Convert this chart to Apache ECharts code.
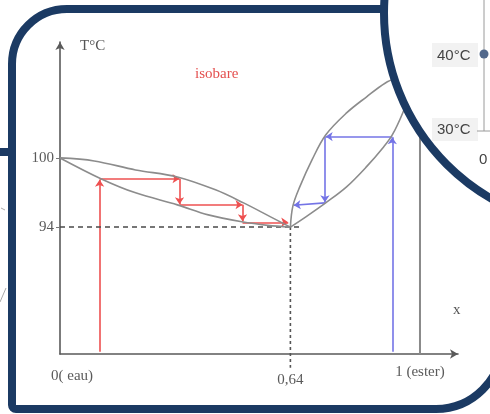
<!DOCTYPE html>
<html>
<head>
<meta charset="utf-8">
<script src="https://cdn.jsdelivr.net/npm/echarts@6/dist/echarts.min.js"></script>
<style>
  html, body { margin: 0; padding: 0; background: #fff; }
  #chart { width: 490px; height: 414px; }
</style>
</head>
<body>
<div id="chart"></div>
<script>
// Axis ticks and their texts
const xTicks = [0, 0.64, 1];
const xTickText = ['0( eau)', '0,64', '1 (ester)'];
const yTicks = [94, 100];

// Azeotrope (x, T)
const azeotrope = [0.64, 94];

// Vapour and liquid curves, water side
const vaporLeft = [[0, 100], [0.095, 99.74], [0.21, 98.96], [0.326, 98.35], [0.432, 97.23], [0.51, 96.10], [0.585, 94.89], [0.64, 94]];
const liquidLeft = [[0, 100], [0.115, 98.18], [0.21, 96.97], [0.326, 95.93], [0.412, 95.06], [0.505, 94.46], [0.577, 94.15], [0.64, 94]];

// Vapour and liquid curves, ester side
const vaporRight = [[0.64, 94], [0.647, 95.84], [0.666, 97.49], [0.70, 99.83], [0.738, 101.99], [0.796, 103.90], [0.851, 105.28], [0.904, 106.50], [0.947, 107.10], [1, 107.8]];
const liquidRight = [[0.64, 94], [0.683, 94.89], [0.738, 96.10], [0.796, 97.49], [0.851, 99.22], [0.899, 100.95], [0.923, 101.99], [0.952, 103.9], [1, 107.8]];

// Distillation steps (segments with arrowheads)
const redSteps = [
  [[0.11, 83.2], [0.11, 98.1]],
  [[0.11, 98.2], [0.332, 98.2]],
  [[0.332, 98.2], [0.332, 95.98]],
  [[0.332, 95.95], [0.507, 95.95]],
  [[0.507, 95.95], [0.507, 94.5]],
  [[0.507, 94.42], [0.634, 94.42]]
];
const blueSteps = [
  [[0.923, 83.2], [0.923, 101.8]],
  [[0.923, 101.85], [0.738, 101.85]],
  [[0.736, 101.85], [0.736, 96.15]],
  [[0.736, 96.1], [0.649, 95.9]]
];

const yMin = 83, yMax = 110.05;
const xMin = 0, xMax = 1.1056;

const navy = '#1b3a63';
const serif = 'Liberation Serif';

const chart = echarts.init(document.getElementById('chart'), null, { renderer: 'canvas' });

const curve = (data) => ({
  type: 'line', data, smooth: 0.35, showSymbol: false, silent: true,
  lineStyle: { color: '#8c8c8c', width: 1.6 }
});
const steps = (segs, color) => ({
  type: 'lines', coordinateSystem: 'cartesian2d', silent: true,
  symbol: ['none', 'arrow'], symbolSize: 7,
  lineStyle: { color, width: 1.6, opacity: 1, curveness: 0 },
  data: segs.map(c => ({ coords: c }))
});

chart.setOption({
  animation: false,
  backgroundColor: '#fff',
  grid: { left: 60, right: 32, top: 42, bottom: 60, containLabel: false, outerBoundsMode: 'none' },
  xAxis: {
    type: 'value', min: xMin, max: xMax,
    splitLine: { show: false },
    axisTick: { show: false },
    axisLine: { lineStyle: { color: '#5a5a5a', width: 1.6 }, symbol: ['none', 'arrow'], symbolSize: [7, 8] },
    axisLabel: {
      customValues: xTicks,
      margin: 11,
      formatter: (v) => {
        const i = xTicks.indexOf(v);
        const key = ['e', 'm', 'r'][i];
        return '{' + key + '|' + xTickText[i] + '}';
      },
      rich: {
        e: { fontFamily: serif, fontSize: 15, color: '#5a5a5a', padding: [4, 0, 0, 24] },
        m: { fontFamily: serif, fontSize: 15, color: '#5a5a5a', padding: [8, 0, 0, 0] },
        r: { fontFamily: serif, fontSize: 15, color: '#5a5a5a', padding: [0, 0, 0, 0] }
      }
    }
  },
  yAxis: {
    type: 'value', min: yMin, max: yMax,
    splitLine: { show: false },
    axisLine: { lineStyle: { color: '#5a5a5a', width: 1.6 }, symbol: ['none', 'arrow'], symbolSize: [7, 8] },
    axisTick: { customValues: yTicks, length: 4, lineStyle: { color: '#777' } },
    axisLabel: { customValues: yTicks, margin: 6, fontFamily: serif, fontSize: 15, color: '#5a5a5a' }
  },
  series: [
    // azeotrope guide lines
    {
      type: 'line', data: [[0, azeotrope[1]], [0.665, azeotrope[1]]], showSymbol: false, silent: true,
      lineStyle: { color: '#4a4a4a', width: 1.5, type: [5, 4] }
    },
    {
      type: 'line', data: [azeotrope, [azeotrope[0], 81.8]], showSymbol: false, silent: true, clip: false,
      lineStyle: { color: '#555', width: 1.6, type: [3, 3] }
    },
    // pure ester line
    {
      type: 'line', data: [[1, yMin], [1, yMax]], showSymbol: false, silent: true,
      lineStyle: { color: '#8a8a8a', width: 2 }
    },
    curve(vaporLeft), curve(liquidLeft), curve(vaporRight), curve(liquidRight),
    steps(redSteps, '#ee5050'),
    steps(blueSteps, '#7474e6')
  ],
  graphic: [
    { type: 'text', z: 50, style: { text: 'T°C', x: 80, y: 39, fill: '#555', font: '15px "Liberation Serif"' } },
    { type: 'text', z: 50, style: { text: 'isobare', x: 195, y: 67, fill: '#e4504f', font: '15px "Liberation Serif"' } },
    { type: 'text', z: 50, style: { text: 'x', x: 453, y: 303, fill: '#555', font: '15px "Liberation Serif"' } },

    // outer frame
    { type: 'rect', z: 99, silent: true,
      shape: { x: 12, y: 9, width: 490, height: 400, r: [55, 58, 66, 4] },
      style: { fill: 'none', stroke: navy, lineWidth: 8 } },
    { type: 'rect', z: 99, silent: true, shape: { x: 0, y: 148, width: 10, height: 8 }, style: { fill: navy } },
    { type: 'line', z: 99, silent: true, shape: { x1: 0, y1: 302, x2: 6, y2: 288 }, style: { stroke: '#aaa', lineWidth: 1 } },
    { type: 'line', z: 99, silent: true, shape: { x1: 1, y1: 208, x2: 5, y2: 210 }, style: { stroke: '#aaa', lineWidth: 1 } },

    // circular inset
    { type: 'circle', z: 100, silent: true,
      shape: { cx: 598, cy: 13, r: 214 },
      style: { fill: '#fff', stroke: navy, lineWidth: 8 } },
    { type: 'rect', z: 101, silent: true, shape: { x: 432, y: 43, width: 46, height: 24 }, style: { fill: '#f2f2f2' } },
    { type: 'rect', z: 101, silent: true, shape: { x: 432, y: 118, width: 46, height: 23 }, style: { fill: '#f2f2f2' } },
    { type: 'line', z: 101, silent: true, shape: { x1: 484, y1: 0, x2: 484, y2: 131 }, style: { stroke: '#9a9a9a', lineWidth: 1 } },
    { type: 'line', z: 101, silent: true, shape: { x1: 477, y1: 131, x2: 490, y2: 131 }, style: { stroke: '#9a9a9a', lineWidth: 1 } },
    { type: 'circle', z: 102, silent: true, shape: { cx: 484, cy: 54, r: 4.5 }, style: { fill: '#52698c' } },
    { type: 'text', z: 102, style: { text: '40°C', x: 437, y: 56, verticalAlign: 'middle', fill: '#444', font: '15px "Liberation Sans"' } },
    { type: 'text', z: 102, style: { text: '30°C', x: 437, y: 130, verticalAlign: 'middle', fill: '#444', font: '15px "Liberation Sans"' } },
    { type: 'text', z: 102, style: { text: '0', x: 479, y: 160, verticalAlign: 'middle', fill: '#444', font: '15px "Liberation Sans"' } }
  ]
});
</script>
</body>
</html>
